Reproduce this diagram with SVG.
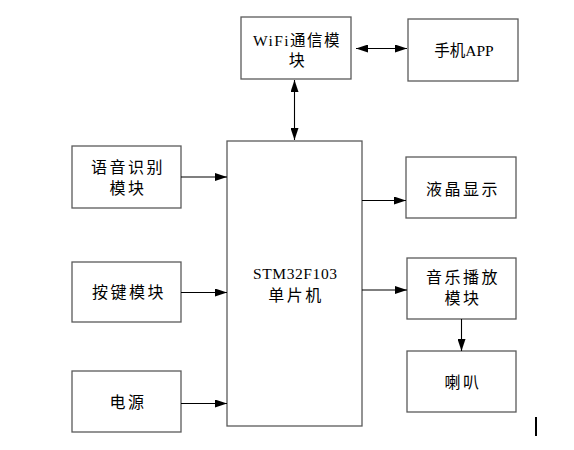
<svg xmlns="http://www.w3.org/2000/svg" width="574" height="450" viewBox="0 0 574 450">
<style>
.box{fill:#fff;stroke:#5a5a5a;stroke-width:1.3}
.t{font-family:"Liberation Serif","Noto Sans CJK SC",serif;font-size:16px;fill:#000;text-anchor:middle;letter-spacing:2.5px}
.m{font-family:"Liberation Serif","Noto Sans CJK SC",serif;font-size:15.5px;fill:#000;text-anchor:middle}
.c{stroke:#000;stroke-width:1.1;fill:none}
</style>
<defs>
<marker id="ah" viewBox="0 0 12 8" refX="12" refY="4" markerWidth="12" markerHeight="8" markerUnits="userSpaceOnUse" orient="auto-start-reverse">
<path d="M0,0 L12,4 L0,8 Z" fill="#000"/>
</marker>
</defs>
<rect width="574" height="450" fill="#fff"/>
<g id="wifi"><rect class="box" x="241" y="17" width="110" height="62"/>
<text class="m" x="297" y="46" letter-spacing="1.5">WiFi通信模</text><text class="t" x="298" y="66">块</text></g>
<g id="app"><rect class="box" x="408" y="19" width="110" height="62"/>
<text class="m" x="464" y="56">手机APP</text></g>
<g id="mcu"><rect class="box" x="227" y="141" width="135" height="285"/>
<text class="m" x="295" y="278.5" textLength="84">STM32F103</text><text class="t" x="296" y="301">单片机</text></g>
<g id="voice"><rect class="box" x="72" y="146" width="109" height="62"/>
<text class="t" x="128" y="173">语音识别</text><text class="t" x="128" y="194">模块</text></g>
<g id="key"><rect class="box" x="72" y="262" width="109" height="60"/>
<text class="t" x="129" y="298">按键模块</text></g>
<g id="power"><rect class="box" x="72" y="371" width="109" height="61"/>
<text class="t" x="128" y="407.5">电源</text></g>
<g id="lcd"><rect class="box" x="406" y="157" width="110" height="61"/>
<text class="t" x="463" y="195">液晶显示</text></g>
<g id="music"><rect class="box" x="407" y="258" width="109" height="61"/>
<text class="t" x="463" y="282.5">音乐播放</text><text class="t" x="463" y="304">模块</text></g>
<g id="speaker"><rect class="box" x="407" y="351" width="109" height="61"/>
<text class="t" x="463" y="387.5">喇叭</text></g>
<g id="connectors">
<line class="c" x1="356" y1="48.5" x2="407" y2="48.5" marker-start="url(#ah)" marker-end="url(#ah)"/>
<line class="c" x1="294.5" y1="80" x2="294.5" y2="140" marker-start="url(#ah)" marker-end="url(#ah)"/>
<line class="c" x1="181" y1="177" x2="227" y2="177" marker-end="url(#ah)"/>
<line class="c" x1="181" y1="292.5" x2="227" y2="292.5" marker-end="url(#ah)"/>
<line class="c" x1="181" y1="403.5" x2="227" y2="403.5" marker-end="url(#ah)"/>
<line class="c" x1="362" y1="200.5" x2="406" y2="200.5" marker-end="url(#ah)"/>
<line class="c" x1="362" y1="290" x2="407" y2="290" marker-end="url(#ah)"/>
<line class="c" x1="461.5" y1="319" x2="461.5" y2="351" marker-end="url(#ah)"/>
</g>
<rect x="535" y="417" width="2" height="19" fill="#000"/>
</svg>
